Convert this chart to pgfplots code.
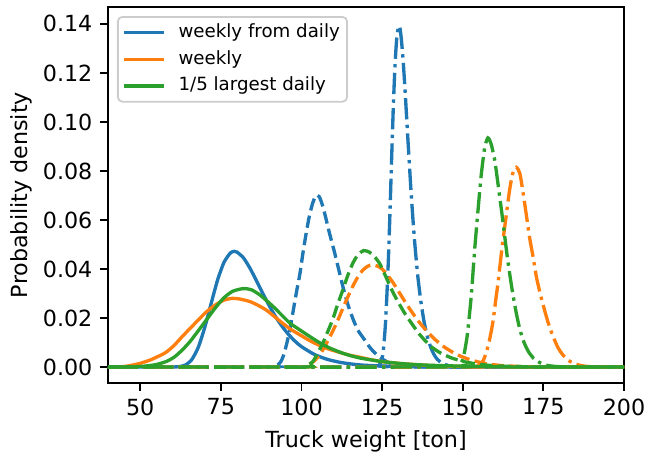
\documentclass[border=0pt]{standalone}
\usepackage{fontspec}
\setmainfont{DejaVu Sans}
\usepackage{pgfplots}
\pgfplotsset{compat=1.18}
\definecolor{tabblue}{HTML}{1F77B4}
\definecolor{taborange}{HTML}{FF7F0E}
\definecolor{tabgreen}{HTML}{2CA02C}
\begin{document}
\begin{tikzpicture}
\begin{axis}[
  scale only axis,
  width=232.2pt, height=169.2pt,
  xmin=40, xmax=200, ymin=-0.00653, ymax=0.1469,
  xtick={50,75,100,125,150,175,200},
  ytick={0,0.02,0.04,0.06,0.08,0.10,0.12,0.14},
  yticklabel style={/pgf/number format/.cd, fixed, fixed zerofill, precision=2},
  scaled y ticks=false,
  /pgf/number format/assume math mode=true,
  tick align=outside,
  major tick length=3.5pt,
  tick style={black, line width=0.8pt},
  xtick pos=bottom, ytick pos=left,
  axis line style={line width=0.8pt},
  tick label style={font=\fontsize{10}{12}\selectfont},
  label style={font=\fontsize{10}{12}\selectfont},
  xlabel={Truck weight [ton]},
  ylabel={Probability density},
  ylabel style={at={(axis description cs:-0.132,0.5)}, anchor=south},
  legend style={at={(0.0174,0.976)}, anchor=north west, draw=black!20, line width=0.8pt,
    rounded corners=2pt, fill=white, fill opacity=0.8, text opacity=1,
    font=\fontsize{8.2}{9.8}\selectfont, inner xsep=2.2pt, inner ysep=2.07pt,
    row sep=2pt,
    nodes={inner sep=1pt, text height=6.2pt, text depth=1.8pt},
    /tikz/every odd column/.append style={column sep=4.6pt}},
  legend cell align=left,
  legend image code/.code={\draw[#1, line width=1.5pt, solid] (0pt,0pt) -- (18pt,0pt);},
  every axis plot/.append style={line width=1.5pt, smooth, tension=0.4},
]
% ---- blue: weekly from daily ----
\addplot[tabblue, solid] coordinates {
(40,0)(55,0)(60,0.00001)(62,0.00013)(64,0.0008)(66,0.00305)(68,0.00805)(70,0.01615)
(72,0.0260)(74,0.0356)(76,0.0428)(78,0.0466)(79.2,0.0472)(80,0.0469)(82,0.04455)
(84,0.04036)(86,0.0353)(88,0.0300)(90,0.0250)(92,0.02046)(94,0.01655)(96,0.01325)
(98,0.01053)(100,0.00831)(104,0.00512)(108,0.00312)(112,0.00189)(116,0.00114)
(120,0.00068)(130,0.00019)(140,0.00005)(160,0)(200,0)};
\addlegendentry{weekly from daily}
\addplot[tabblue, forget plot, dash pattern=on 5.55pt off 2.4pt] coordinates {
(40,0)(90,0)(92,0.0003)(93.5,0.002)(94.5,0.005)(95.5,0.010)(96.5,0.016)(97.5,0.0235)
(98.5,0.031)(99.5,0.038)(100.5,0.047)(101.5,0.055)(102.5,0.062)(103.5,0.067)
(104.5,0.070)(105.5,0.0695)(106.5,0.066)(107.5,0.061)(108.5,0.0555)(110,0.048)
(111.5,0.040)(113,0.032)(114.5,0.025)(116,0.0195)(117.5,0.0150)(119.5,0.0112)
(121.5,0.0075)(124,0.0042)(127,0.0018)(130,0.0007)(134,0.0002)(140,0)(200,0)};
\addplot[tabblue, forget plot, dash pattern=on 9.6pt off 2.4pt on 1.5pt off 2.4pt] coordinates {
(40,0)(123,0)(124,0.0005)(125,0.0035)(125.5,0.0085)(126,0.0170)(126.5,0.0300)
(127,0.0460)(127.5,0.0660)(128,0.0874)(128.5,0.1073)(129,0.1232)(129.5,0.1337)
(130,0.1384)(130.3,0.1392)(130.6,0.1378)(131,0.1332)(131.5,0.1253)(132,0.1153)(132.5,0.1041)
(133,0.0927)(134,0.0709)(135,0.0524)(136,0.0378)(137,0.0269)(138,0.0185)
(139,0.0125)(140,0.0083)(141,0.0053)(142,0.0033)(144,0.0012)(147,0.0003)(150,0)(200,0)};
% ---- orange: weekly ----
\addplot[taborange, solid] coordinates {
(40,0)(42,0)(45,0.0002)(47.7,0.0008)(50,0.0015)(53,0.0028)(56,0.0046)(58,0.006)
(60.5,0.0088)(63,0.0124)(65.5,0.0158)(68,0.0192)(70.5,0.0225)(73.5,0.0255)(76,0.0273)
(78.5,0.028)(81,0.0277)(84,0.0267)(86.5,0.0252)(89,0.0233)(91.5,0.0207)(94,0.0180)
(96.5,0.0155)(99.4,0.0132)(102.5,0.0108)(105.6,0.0088)(108.5,0.0073)(112,0.0059)
(115,0.0048)(118,0.0040)(121.5,0.0030)(125,0.0022)(130,0.0015)(135,0.0010)
(140,0.0006)(145,0.0004)(152,0.0002)(160,0.0001)(170,0)(200,0)};
\addlegendentry{weekly}
\addplot[taborange, forget plot, dash pattern=on 5.55pt off 2.4pt] coordinates {
(40,0)(100,0)(102,0.0007)(104,0.0025)(105.5,0.0048)(107,0.0078)(108.5,0.0115)
(110,0.0155)(111.5,0.0198)(113,0.0245)(114.5,0.0290)(116,0.0332)(117.5,0.0368)
(119,0.0395)(120.5,0.0411)(122,0.0417)(123.5,0.0412)(125,0.0400)(126.5,0.0378)
(128.5,0.0342)(130.5,0.0300)(132.5,0.0258)(134.5,0.0219)(136.5,0.0183)(138.7,0.0149)
(141,0.0117)(143.8,0.0086)(146.5,0.0063)(149,0.0046)(152,0.0031)(155,0.0020)
(158,0.0012)(162,0.0006)(168,0.0002)(175,0)(200,0)};
\addplot[taborange, forget plot, dash pattern=on 9.6pt off 2.4pt on 1.5pt off 2.4pt] coordinates {
(40,0)(153,0)(155,0.0008)(156.3,0.0025)(157.3,0.006)(158.3,0.011)(159.3,0.018)
(160.1,0.026)(160.9,0.034)(161.6,0.042)(162.3,0.050)(163.3,0.060)(164.5,0.072)
(165.5,0.079)(166.6,0.0815)(167.7,0.079)(168.6,0.072)(169.5,0.064)(170.7,0.053)
(171.8,0.045)(172.8,0.037)(174,0.030)(175.2,0.024)(176.5,0.018)(178,0.0125)
(179.5,0.008)(181,0.005)(183,0.0025)(185.5,0.001)(188,0.0003)(192,0)(200,0)};
% ---- green: 1/5 largest daily ----
\addplot[tabgreen, solid] coordinates {
(40,0)(45,0)(50,0.0002)(53,0.0006)(55,0.001)(58,0.0022)(60.5,0.004)(63,0.0069)
(65.5,0.0105)(68,0.0148)(70.5,0.0192)(73.5,0.0245)(76,0.0283)(78.5,0.0308)(81,0.0318)
(82.5,0.0320)(84.5,0.0315)(87,0.0295)(89,0.0273)(91.5,0.0243)(94,0.0210)(96.5,0.0178)
(99.4,0.0152)(102.5,0.0125)(105.6,0.0099)(108.5,0.0079)(112,0.0060)(115,0.0047)
(118,0.0037)(121.5,0.0029)(125,0.0022)(130,0.0015)(135,0.0010)(140,0.0007)
(145,0.0005)(152,0.0003)(160,0.0001)(170,0)(200,0)};
\addlegendentry{1/5 largest daily}
\addplot[tabgreen, forget plot, dash pattern=on 5.55pt off 2.4pt] coordinates {
(40,0)(100,0)(102,0.0008)(103.5,0.0022)(105,0.0055)(106.6,0.0097)(108,0.0140)
(109.7,0.0195)(111.2,0.0255)(112.8,0.0314)(114.3,0.0372)(115.9,0.0423)(117.5,0.0458)
(119.3,0.0475)(121,0.0469)(122.5,0.0452)(124.2,0.0423)(126.1,0.0370)(128,0.0314)
(130.1,0.0262)(132.2,0.0215)(134.3,0.0175)(136.3,0.0138)(138.3,0.0108)(140.2,0.0083)
(143,0.0058)(146.5,0.0037)(149,0.0027)(151,0.0020)(155,0.0011)(160,0.0005)(166,0.0002)
(175,0)(200,0)};
\addplot[tabgreen, forget plot, dash pattern=on 9.6pt off 2.4pt on 1.5pt off 2.4pt] coordinates {
(40,0)(147,0)(149,0.0008)(150,0.003)(150.6,0.0065)(151.3,0.012)(151.9,0.019)
(152.5,0.027)(152.9,0.0335)(153.7,0.048)(154.7,0.0635)(155.7,0.078)(156.8,0.0895)
(157.8,0.0935)(158.8,0.091)(159.9,0.0845)(160.7,0.077)(161.4,0.070)(162.2,0.062)
(163,0.0535)(163.8,0.045)(164.5,0.0385)(165.5,0.030)(166.6,0.022)(167.5,0.0165)
(168.5,0.0118)(169.5,0.0085)(170.5,0.006)(172,0.0035)(174,0.0017)(176,0.0007)
(179,0.0002)(183,0)(200,0)};
\end{axis}
\pgfresetboundingbox
\path[use as bounding box] ([xshift=-48.6pt,yshift=-32.85pt]current axis.south west) rectangle ([xshift=10.35pt,yshift=3.15pt]current axis.north east);
\end{tikzpicture}
\end{document}
